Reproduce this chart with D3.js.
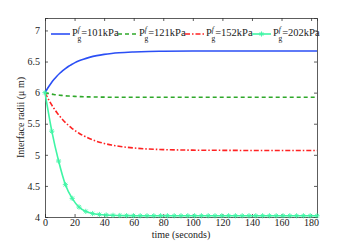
<!DOCTYPE html>
<html>
<head>
<meta charset="utf-8">
<script src="https://cdn.jsdelivr.net/npm/d3@7"></script>
<style>
  body { margin: 0; background: #fff; }
  svg text { font-family: "Liberation Serif", "DejaVu Serif", serif !important; fill: #222; }
</style>
</head>
<body>
<div id="chart"></div>
<script>
// time grid (s) for the smooth curves
const times = [0, 2, 4, 6, 8, 10, 12, 14, 16, 18, 20, 23, 26, 30, 35, 40, 45, 50, 60, 70, 80, 100, 120, 140, 160, 184];
const r101 = [6.00, 6.079, 6.148, 6.210, 6.264, 6.311, 6.354, 6.391, 6.424, 6.452, 6.478, 6.511, 6.538, 6.567, 6.595, 6.615, 6.630, 6.641, 6.654, 6.662, 6.665, 6.669, 6.67, 6.67, 6.67, 6.67];
const r121 = [6.00, 5.988, 5.979, 5.970, 5.963, 5.958, 5.953, 5.948, 5.945, 5.942, 5.939, 5.936, 5.934, 5.931, 5.929, 5.927, 5.926, 5.926, 5.925, 5.925, 5.925, 5.925, 5.925, 5.925, 5.925, 5.925];
const r152 = [6.00, 5.907, 5.823, 5.748, 5.680, 5.619, 5.565, 5.515, 5.471, 5.431, 5.395, 5.347, 5.307, 5.262, 5.217, 5.183, 5.157, 5.137, 5.110, 5.093, 5.084, 5.075, 5.072, 5.07, 5.07, 5.07];
// 202 kPa series is drawn with markers at its own sample times
const t202 = [0, 4.6, 9.2, 13.8, 18.4, 23, 27.6, 32.2, 36.8, 41.4, 46, 50.6, 55.2, 59.8, 64.4, 69, 73.6, 78.2, 82.8, 87.4, 92, 96.6, 101.2, 105.8, 110.4, 115, 119.6, 124.2, 128.8, 133.4, 138, 142.6, 147.2, 151.8, 156.4, 161, 165.6, 170.2, 174.8, 179.4, 184];
const r202 = [6.00, 5.38, 4.90, 4.52, 4.30, 4.16, 4.09, 4.055, 4.04, 4.032, 4.027, 4.024, 4.022, 4.021, 4.02, 4.02, 4.02, 4.02, 4.02, 4.02, 4.02, 4.02, 4.02, 4.02, 4.02, 4.02, 4.02, 4.02, 4.02, 4.02, 4.02, 4.02, 4.02, 4.02, 4.02, 4.02, 4.02, 4.02, 4.02, 4.02, 4.02];

const xTicks = [0, 20, 40, 60, 80, 100, 120, 140, 160, 180];
const yTicks = [4, 4.5, 5, 5.5, 6, 6.5, 7];
const legendKpa = ["101kPa", "121kPa", "152kPa", "202kPa"];

const W = 349, H = 245;
const margin = {top: 18, right: 32, bottom: 28, left: 45};
const width = W - margin.left - margin.right;
const height = H - margin.top - margin.bottom;

const svg = d3.select("#chart").append("svg")
  .attr("width", W).attr("height", H);
const g = svg.append("g").attr("transform", "translate(" + margin.left + "," + margin.top + ")");

const x = d3.scaleLinear().domain([0, 184]).range([0, width]);
const y = d3.scaleLinear().domain([4, 7.2]).range([height, 0]);

// axes, ticks pointing inward like matlab
const fmt = d => d3.format("")(d);
g.append("g").attr("transform", "translate(0," + height + ")")
  .call(d3.axisBottom(x).tickValues(xTicks).tickSize(-3).tickPadding(2).tickFormat(fmt));
g.append("g")
  .call(d3.axisTop(x).tickValues(xTicks).tickSize(-3).tickFormat(""));
g.append("g")
  .call(d3.axisLeft(y).tickValues(yTicks).tickSize(-3).tickPadding(5).tickFormat(fmt));
g.append("g").attr("transform", "translate(" + width + ",0)")
  .call(d3.axisRight(y).tickValues(yTicks).tickSize(-3).tickFormat(""));
g.selectAll("g").attr("font-family", null);
g.selectAll(".domain").attr("stroke", "#333").attr("stroke-width", 0.8);
g.selectAll(".tick line").attr("stroke", "#333").attr("stroke-width", 0.8);
g.selectAll(".tick text").style("font-size", "10px").attr("fill", "#222");

// labels
svg.append("text")
  .attr("x", margin.left + x(92)).attr("y", 238)
  .attr("text-anchor", "middle").style("font-size", "10px")
  .text("time (seconds)");
svg.append("text")
  .attr("transform", "translate(24," + (margin.top + height / 2) + ") rotate(-90)")
  .attr("text-anchor", "middle").style("font-size", "10px")
  .text("Interface radii (\u03bc m)");

const line = d3.line().x(d => x(d[0])).y(d => y(d[1])).curve(d3.curveMonotoneX);

const series = [
  {vals: r101, color: "#2b4ff5", dash: null},
  {vals: r121, color: "#2fa82a", dash: "4,3"},
  {vals: r152, color: "#ff2222", dash: "5,2,1.5,2"}
];
series.forEach(s => {
  g.append("path")
    .datum(times.map((t, i) => [t, s.vals[i]]))
    .attr("fill", "none").attr("stroke", s.color).attr("stroke-width", 1.6)
    .attr("stroke-dasharray", s.dash)
    .attr("d", line);
});

const cyan = "#3ff5a5";
const pts202 = t202.map((t, i) => [t, r202[i]]);
g.append("path").datum(pts202)
  .attr("fill", "none").attr("stroke", cyan).attr("stroke-width", 1.6)
  .attr("d", line);

function star(sel, cx, cy, r) {
  const a = r * 0.7;
  sel.append("path")
    .attr("d", `M${cx - r},${cy}L${cx + r},${cy}M${cx},${cy - r}L${cx},${cy + r}M${cx - a},${cy - a}L${cx + a},${cy + a}M${cx - a},${cy + a}L${cx + a},${cy - a}`)
    .attr("stroke", cyan).attr("stroke-width", 0.9).attr("fill", "none");
}
pts202.forEach(p => star(g, x(p[0]), y(p[1]), 2.6));

// legend row
const legX = [6, 73, 140, 207];
const legColors = ["#2b4ff5", "#2fa82a", "#ff2222", cyan];
const legDash = [null, "4,3", "5,2,1.5,2", null];
const ly = 16;
legendKpa.forEach((k, i) => {
  const lg = g.append("g").attr("transform", "translate(" + legX[i] + "," + ly + ")");
  lg.append("line").attr("x1", 0).attr("x2", 19).attr("y1", 0).attr("y2", 0)
    .attr("stroke", legColors[i]).attr("stroke-width", 1.6).attr("stroke-dasharray", legDash[i]);
  if (i === 3) star(lg, 9.5, 0, 2.6);
  const t = lg.append("text").attr("x", 21).attr("y", 2).style("font-size", "10.5px");
  t.append("tspan").text("P");
  t.append("tspan").attr("dy", -4).style("font-size", "7.5px").style("font-style", "italic").text("f");
  t.append("tspan").attr("dx", -2.5).attr("dy", 8.5).style("font-size", "7.5px").text("g");
  t.append("tspan").attr("dy", -4.5).text("=" + k);
});
</script>
</body>
</html>
